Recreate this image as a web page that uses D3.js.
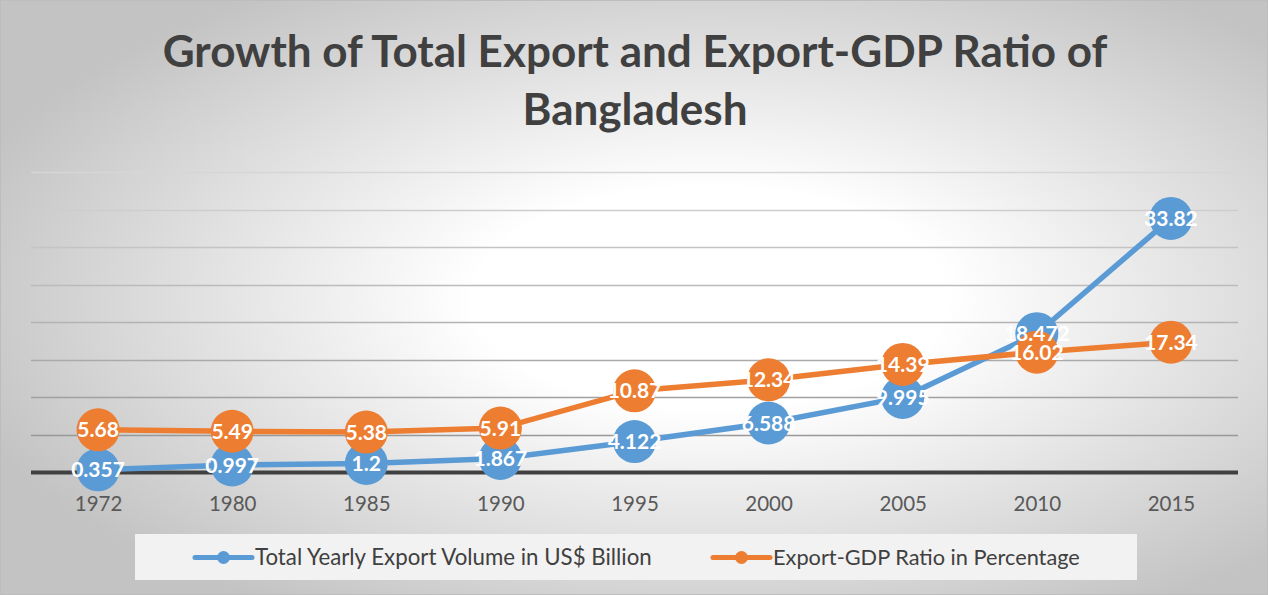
<!DOCTYPE html>
<html><head><meta charset="utf-8">
<script src="https://cdn.jsdelivr.net/npm/d3@7"></script>
<style>html,body{margin:0;padding:0;background:#fff;}svg{display:block;}</style>
</head><body>
<svg id="chart" width="1268" height="595"></svg>
<script>
const categories = ["1972","1980","1985","1990","1995","2000","2005","2010","2015"];
const exportVolume = [0.357,0.997,1.2,1.867,4.122,6.588,9.995,18.472,33.82];
const exportGdpRatio = [5.68,5.49,5.38,5.91,10.87,12.34,14.39,16.02,17.34];
const yTicks = [0,5,10,15,20,25,30,35,40];
const seriesNames = ["Total Yearly Export Volume in US$ Billion","Export-GDP Ratio in Percentage"];
const titleLines = ["Growth of Total Export and Export-GDP Ratio of","Bangladesh"];

const W=1268,H=595;
const svg=d3.select("#chart");
const defs=svg.append("defs");
const rg=defs.append("radialGradient").attr("id","bg").attr("cx",0.56).attr("cy",0.5).attr("r",0.62);
rg.append("stop").attr("offset",0).attr("stop-color","#ffffff");
rg.append("stop").attr("offset",0.3).attr("stop-color","#ffffff");
rg.append("stop").attr("offset",1).attr("stop-color","#c3c3c3");
svg.append("rect").attr("x",0.5).attr("y",0.5).attr("width",W-1).attr("height",H-1)
  .attr("fill","url(#bg)").attr("stroke","#bdbdbd").attr("stroke-width",1);

const font="Lato, 'Open Sans', sans-serif";
const x=d3.scalePoint().domain(categories).range([31,1238]).padding(0.5);
const y=d3.scaleLinear().domain([0,40]).range([472.5,172]);

// gridlines
const gcol=d3.scaleLinear().domain([0,40]).range(["#8f8f8f","#d6d6d6"]);
svg.append("g").selectAll("line").data(yTicks.filter(d=>d>0)).join("line")
  .attr("x1",31).attr("x2",1238).attr("y1",d=>Math.round(y(d))+0.5).attr("y2",d=>Math.round(y(d))+0.5)
  .attr("stroke",d=>gcol(d)).attr("stroke-width",1.5);

// x axis
const xAxis=svg.append("g").attr("transform",`translate(0,${y(0)})`)
  .call(d3.axisBottom(x).tickSize(0).tickPadding(24));
xAxis.select(".domain").remove();
svg.append("line").attr("x1",31).attr("x2",1238).attr("y1",y(0)).attr("y2",y(0))
  .attr("stroke","#404040").attr("stroke-width",4);
xAxis.selectAll("text").attr("font-family",font).attr("font-size",20.5).attr("fill","#595959");

// title
const tl=svg.append("g").selectAll("text").data(titleLines).join("text")
  .attr("x",635).attr("y",(d,i)=>i===0?67:125).attr("text-anchor","middle")
  .attr("font-family",font).attr("font-weight",700).attr("font-size",40).attr("fill","#404040").text(d=>d);
const w0=tl.node().getComputedTextLength();
tl.attr("font-size",40*945/w0);

const series=[{vals:exportVolume,color:"#5b9bd5"},{vals:exportGdpRatio,color:"#ed7d31"}];
const line=d3.line().x((d,i)=>x(categories[i])).y(d=>y(d));
series.forEach(s=>{
  svg.append("path").datum(s.vals).attr("d",line).attr("fill","none")
    .attr("stroke",s.color).attr("stroke-width",5.5).attr("stroke-linejoin","round");
  svg.append("g").selectAll("circle").data(s.vals).join("circle")
    .attr("cx",(d,i)=>x(categories[i])).attr("cy",d=>y(d)).attr("r",21.5).attr("fill",s.color);
});
series.forEach(s=>{
  svg.append("g").selectAll("text").data(s.vals).join("text")
    .attr("x",(d,i)=>x(categories[i])).attr("y",d=>y(d)).attr("dy","0.36em")
    .attr("text-anchor","middle").attr("font-family",font).attr("font-weight",700)
    .attr("font-size",21).attr("fill","#ffffff").text(d=>d);
});

// legend
svg.append("rect").attr("x",135).attr("y",534).attr("width",1002).attr("height",46).attr("fill","#f2f2f2");
const legX=[195,713];
const legTextW=[397,307];
series.forEach((s,i)=>{
  const g=svg.append("g").attr("transform",`translate(${legX[i]},557.5)`);
  g.append("line").attr("x1",0).attr("x2",57).attr("y1",0).attr("y2",0).attr("stroke",s.color).attr("stroke-width",5).attr("stroke-linecap","round");
  g.append("circle").attr("cx",28.5).attr("cy",0).attr("r",6.5).attr("fill",s.color);
  const t=g.append("text").attr("x",60).attr("y",0).attr("dy","0.35em").attr("font-family",font)
    .attr("font-size",20).attr("fill","#404040").text(seriesNames[i]);
  const tw=t.node().getComputedTextLength();
  t.attr("font-size",20*legTextW[i]/tw);
});
</script>
</body></html>
